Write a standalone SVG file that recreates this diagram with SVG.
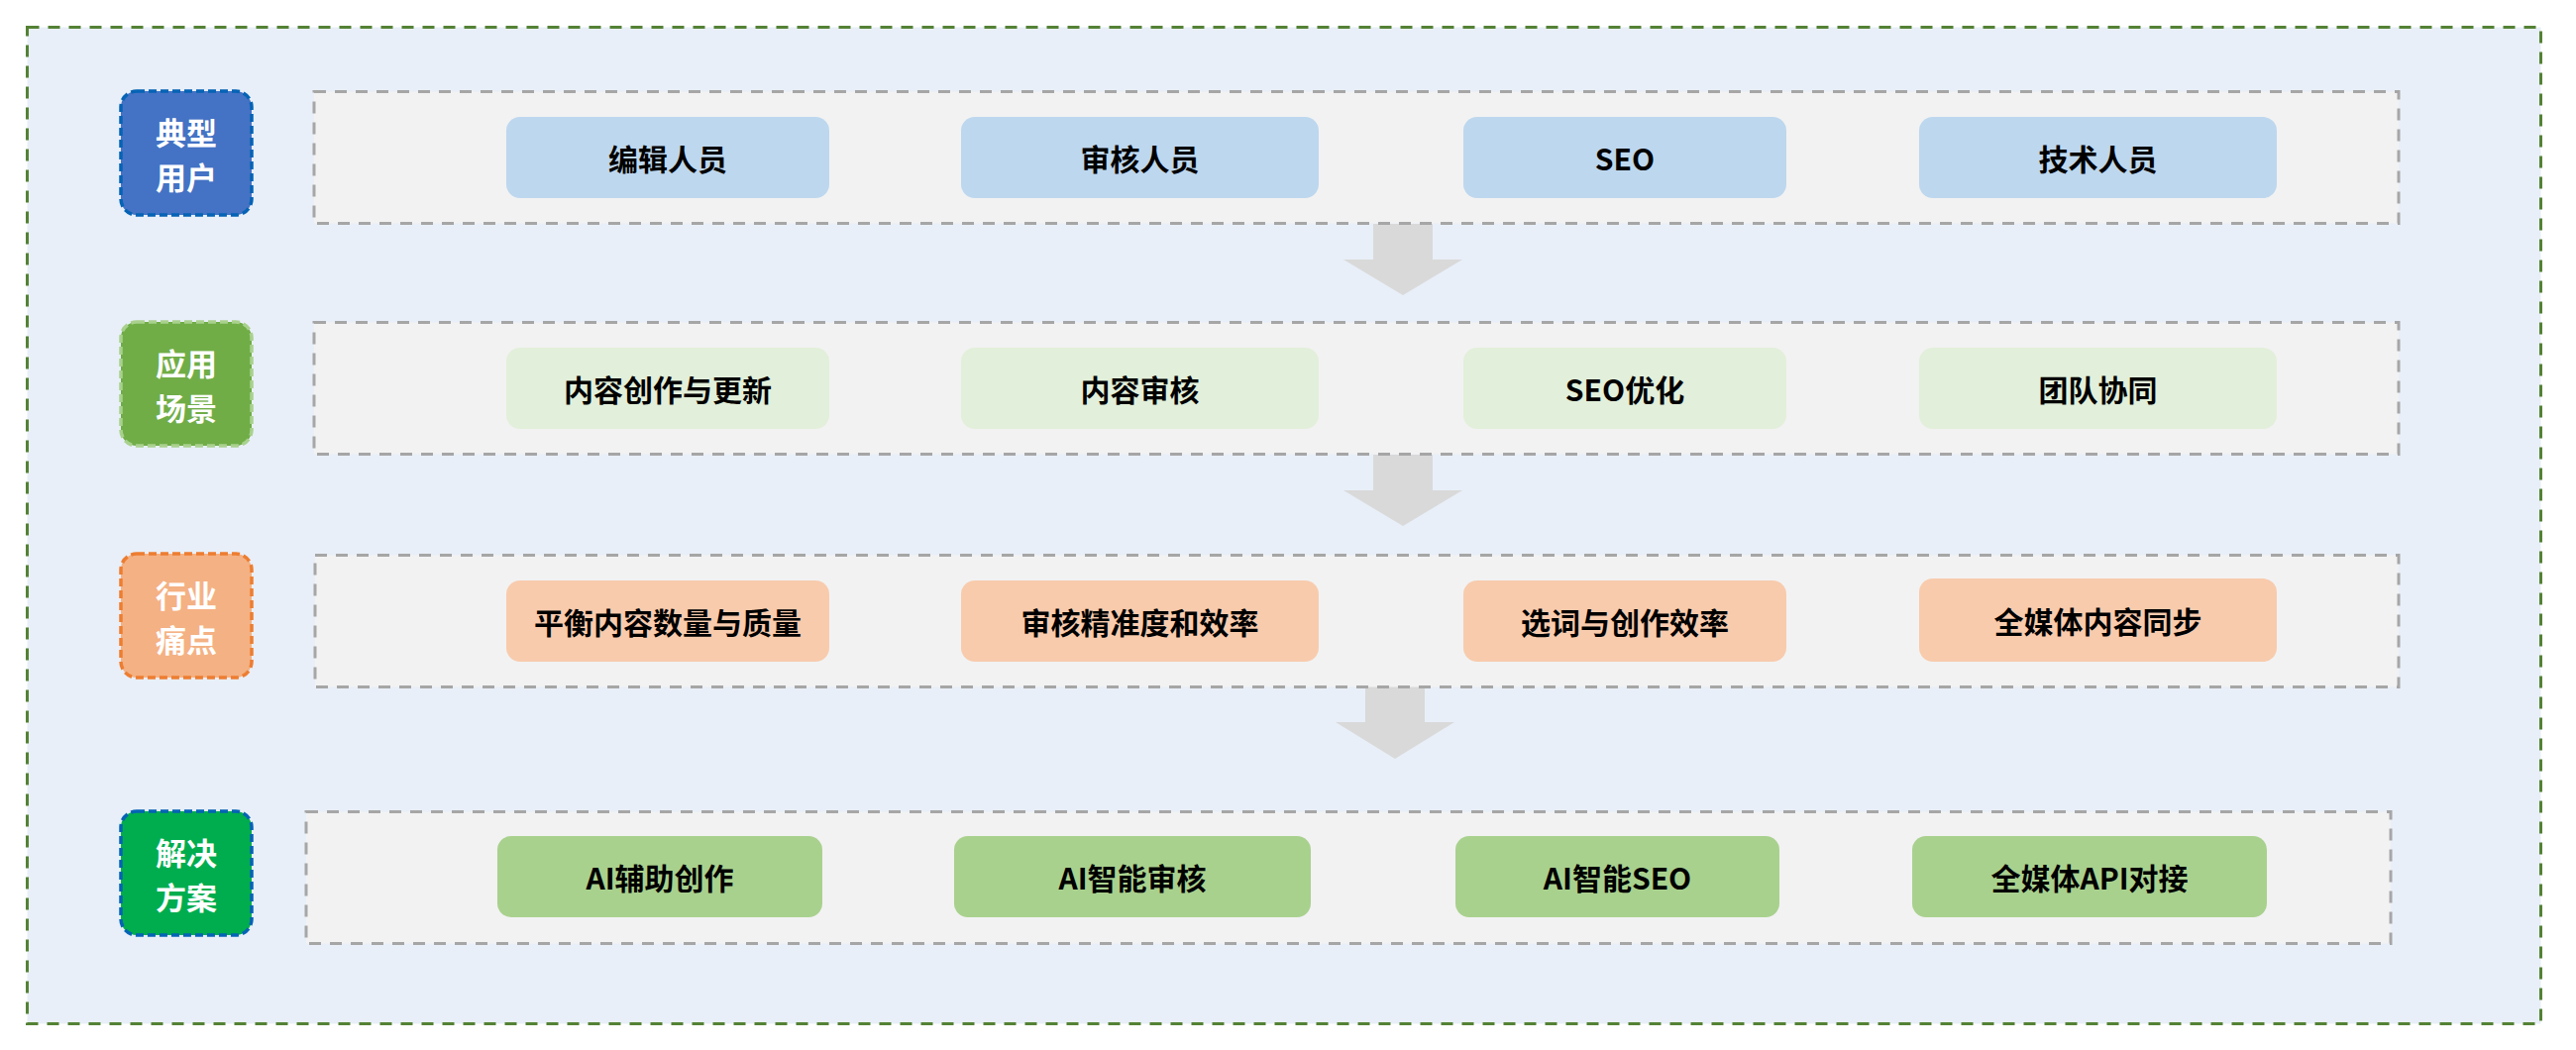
<svg xmlns="http://www.w3.org/2000/svg" width="2600" height="1060" viewBox="0 0 2600 1060">
<style>
.outer{fill:#E8EFF8;stroke:#548235;stroke-width:3;stroke-dasharray:12 9}
.row{fill:#F2F2F2;stroke:#A6A6A6;stroke-width:3;stroke-dasharray:12 9}
.lbl{stroke-width:3.5;stroke-dasharray:8 4}
.lt{font-family:"Noto Sans CJK SC","Noto Sans",sans-serif;font-weight:bold;font-size:31px;fill:#FFFFFF;text-anchor:middle;dominant-baseline:central}
.it{font-family:"Noto Sans CJK SC","Noto Sans",sans-serif;font-weight:bold;font-size:30px;fill:#000000;text-anchor:middle;dominant-baseline:central}
.b1{fill:#BDD7EE}.b2{fill:#E2EFDA}.b3{fill:#F8CBAD}.b4{fill:#A9D18E}
.arr{fill:#D9D9D9}
</style>
<rect class="outer" x="27.5" y="27.5" width="2537" height="1006"/>
<g id="connectors">
<polygon class="arr" points="1386,226 1446,226 1446,262 1476,262 1416,298 1356,262 1386,262"/>
<polygon class="arr" points="1386,459 1446,459 1446,495 1476,495 1416,531 1356,495 1386,495"/>
<polygon class="arr" points="1378,693 1438,693 1438,729 1468,729 1408,766 1348,729 1378,729"/>
</g>
<g id="row1">
<rect class="row" x="317" y="92.5" width="2104" height="133"/>
<g id="u1"><rect class="b1" x="511" y="118" width="326" height="82" rx="14"/><text class="it" x="674" y="159">编辑人员</text></g>
<g id="u2"><rect class="b1" x="970" y="118" width="361" height="82" rx="14"/><text class="it" x="1150.5" y="159">审核人员</text></g>
<g id="u3"><rect class="b1" x="1477" y="118" width="326" height="82" rx="14"/><text class="it" x="1640" y="159">SEO</text></g>
<g id="u4"><rect class="b1" x="1937" y="118" width="361" height="82" rx="14"/><text class="it" x="2117.5" y="159">技术人员</text></g>
</g>
<g id="row2">
<rect class="row" x="317" y="325.5" width="2104" height="133"/>
<g id="s1"><rect class="b2" x="511" y="351" width="326" height="82" rx="14"/><text class="it" x="674" y="392">内容创作与更新</text></g>
<g id="s2"><rect class="b2" x="970" y="351" width="361" height="82" rx="14"/><text class="it" x="1150.5" y="392">内容审核</text></g>
<g id="s3"><rect class="b2" x="1477" y="351" width="326" height="82" rx="14"/><text class="it" x="1640" y="392">SEO优化</text></g>
<g id="s4"><rect class="b2" x="1937" y="351" width="361" height="82" rx="14"/><text class="it" x="2117.5" y="392">团队协同</text></g>
</g>
<g id="row3">
<rect class="row" x="318" y="560.5" width="2103" height="133"/>
<g id="p1"><rect class="b3" x="511" y="586" width="326" height="82" rx="14"/><text class="it" x="674" y="627">平衡内容数量与质量</text></g>
<g id="p2"><rect class="b3" x="970" y="586" width="361" height="82" rx="14"/><text class="it" x="1150.5" y="627">审核精准度和效率</text></g>
<g id="p3"><rect class="b3" x="1477" y="586" width="326" height="82" rx="14"/><text class="it" x="1640" y="627">选词与创作效率</text></g>
<g id="p4"><rect class="b3" x="1937" y="584" width="361" height="84" rx="14"/><text class="it" x="2117.5" y="626">全媒体内容同步</text></g>
</g>
<g id="row4">
<rect class="row" x="309" y="819.5" width="2104" height="133"/>
<g id="a1"><rect class="b4" x="502" y="844" width="328" height="82" rx="14"/><text class="it" x="666" y="885">AI辅助创作</text></g>
<g id="a2"><rect class="b4" x="963" y="844" width="360" height="82" rx="14"/><text class="it" x="1143" y="885">AI智能审核</text></g>
<g id="a3"><rect class="b4" x="1469" y="844" width="327" height="82" rx="14"/><text class="it" x="1632.5" y="885">AI智能SEO</text></g>
<g id="a4"><rect class="b4" x="1930" y="844" width="358" height="82" rx="14"/><text class="it" x="2109" y="885">全媒体API对接</text></g>
</g>
<g id="label1"><rect class="lbl" x="122" y="92" width="132" height="125" rx="16" fill="#4472C4" stroke="#0563B5"/><text class="lt" x="188" y="132">典型</text><text class="lt" x="188" y="177">用户</text></g>
<g id="label2"><rect class="lbl" x="122" y="325" width="132" height="125" rx="16" fill="#70AD47" stroke="#A9D18E"/><text class="lt" x="188" y="365">应用</text><text class="lt" x="188" y="410">场景</text></g>
<g id="label3"><rect class="lbl" x="122" y="559" width="132" height="125" rx="16" fill="#F4B183" stroke="#ED7D31"/><text class="lt" x="188" y="599">行业</text><text class="lt" x="188" y="644">痛点</text></g>
<g id="label4"><rect class="lbl" x="122" y="819" width="132" height="125" rx="16" fill="#00AD4E" stroke="#0563B5"/><text class="lt" x="188" y="859">解决</text><text class="lt" x="188" y="904">方案</text></g>
</svg>
